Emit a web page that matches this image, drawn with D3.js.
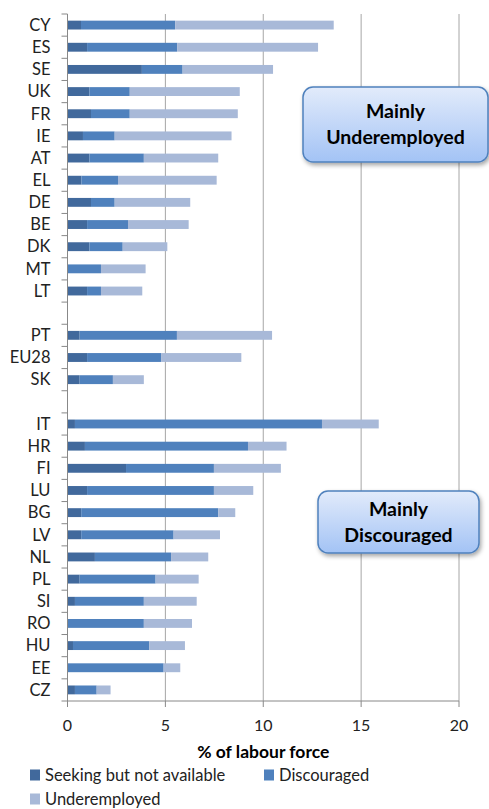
<!DOCTYPE html>
<html>
<head>
<meta charset="utf-8">
<script src="https://cdn.jsdelivr.net/npm/d3@7"></script>
<style>
  body { margin: 0; background: #fff; }
  text { font-family: Lato, "Open Sans", sans-serif; fill: #222; }
</style>
</head>
<body>
<div id="chart"></div>
<script>
var width = 489, height = 809;

// categories, top to bottom ('gap' = empty rows)
var countries = ['CY','ES','SE','UK','FR','IE','AT','EL','DE','BE','DK','MT','LT','gap1',
  'PT','EU28','SK','gap2',
  'IT','HR','FI','LU','BG','LV','NL','PL','SI','RO','HU','EE','CZ'];

var seeking = [0.69,1.0,3.8,1.12,1.2,0.79,1.12,0.71,1.2,1.0,1.12,0,1.0,0,
  0.62,1.0,0.62,0,
  0.38,0.89,2.99,1.0,0.7,0.7,1.4,0.62,0.38,0,0.28,0,0.38];
var discouraged = [4.81,4.6,2.08,2.06,1.98,1.62,2.78,1.87,1.21,2.09,1.7,1.71,0.71,0,
  4.97,3.78,1.7,0,
  12.62,8.33,4.49,6.48,7.0,4.72,3.89,3.88,3.52,3.9,3.9,4.91,1.11];
var underemployed = [8.1,7.2,4.62,5.62,5.52,5.97,3.8,5.04,3.86,3.1,2.28,2.28,2.11,0,
  4.86,4.1,1.58,0,
  2.9,1.97,3.42,2.01,0.87,2.37,1.9,2.2,2.7,2.46,1.82,0.85,0.71];

var seriesNames = ['Seeking but not available', 'Discouraged', 'Underemployed'];
var colors = ['#41699c', '#4f81bd', '#a8b9d8'];
var xTicks = [0, 5, 10, 15, 20];

var margin = {top: 14, left: 67.5};
var plotW = 459 - margin.left, plotH = 701 - margin.top;

var svg = d3.select('#chart').append('svg')
  .attr('width', width)
  .attr('height', height);

var defs = svg.append('defs');
var grad = defs.append('linearGradient')
  .attr('id', 'boxGrad').attr('x1', 0).attr('y1', 0).attr('x2', 0).attr('y2', 1);
grad.append('stop').attr('offset', '0%').attr('stop-color', '#e2ebfb');
grad.append('stop').attr('offset', '100%').attr('stop-color', '#a3c3f5');
var filt = defs.append('filter').attr('id', 'shadow')
  .attr('x', '-10%').attr('y', '-10%').attr('width', '130%').attr('height', '140%');
filt.append('feDropShadow').attr('dx', 1.5).attr('dy', 2.5).attr('stdDeviation', 2)
  .attr('flood-color', '#000').attr('flood-opacity', 0.35);

var g = svg.append('g').attr('transform', 'translate(' + margin.left + ',' + margin.top + ')');

var x = d3.scaleLinear().domain([0, 20]).range([0, plotW]);
var y = d3.scaleBand().domain(countries).range([0, plotH]).paddingInner(0.6).paddingOuter(0.3);

// gridlines
g.selectAll('.grid')
  .data(xTicks.slice(1)).enter()
  .append('line')
  .attr('x1', function (d) { return x(d); })
  .attr('x2', function (d) { return x(d); })
  .attr('y1', 0).attr('y2', plotH)
  .style('stroke', '#a6a6a6')
  .style('stroke-width', 1);

// stacked data
var rows = countries.map(function (c, i) {
  return {country: c, s0: seeking[i], s1: discouraged[i], s2: underemployed[i]};
});
var stack = d3.stack().keys(['s0', 's1', 's2'])(rows);

g.selectAll('.series')
  .data(stack).enter()
  .append('g')
  .attr('fill', function (d, i) { return colors[i]; })
  .selectAll('rect')
  .data(function (d) { return d; }).enter()
  .append('rect')
  .attr('x', function (d) { return x(d[0]); })
  .attr('width', function (d) { return x(d[1]) - x(d[0]); })
  .attr('y', function (d) { return y(d.data.country); })
  .attr('height', y.bandwidth());

// y axis line and ticks at category boundaries
var step = plotH / countries.length;
g.append('line')
  .attr('x1', 0).attr('x2', 0).attr('y1', 0).attr('y2', plotH)
  .style('stroke', '#888');
g.selectAll('.ytick')
  .data(d3.range(countries.length + 1)).enter()
  .append('line')
  .attr('x1', -6).attr('x2', 0)
  .attr('y1', function (d) { return d * step; })
  .attr('y2', function (d) { return d * step; })
  .style('stroke', '#888');

g.selectAll('.ylabel')
  .data(countries.filter(function (c) { return c.indexOf('gap') !== 0; })).enter()
  .append('text')
  .attr('x', -17)
  .attr('y', function (d) { return y(d) + y.bandwidth() / 2; })
  .attr('dy', '0.35em')
  .attr('text-anchor', 'end')
  .style('font-size', '16.5px')
  .text(function (d) { return d; });

// x axis
g.append('line')
  .attr('x1', 0).attr('x2', plotW).attr('y1', plotH).attr('y2', plotH)
  .style('stroke', '#888');
g.selectAll('.xtick')
  .data(xTicks).enter()
  .append('line')
  .attr('x1', function (d) { return x(d); })
  .attr('x2', function (d) { return x(d); })
  .attr('y1', plotH).attr('y2', plotH + 6)
  .style('stroke', '#888');
g.selectAll('.xlabel')
  .data(xTicks).enter()
  .append('text')
  .attr('x', function (d) { return x(d); })
  .attr('y', plotH + 24)
  .attr('dy', '0.35em')
  .attr('text-anchor', 'middle')
  .style('font-size', '16px')
  .text(function (d) { return d; });

svg.append('text')
  .attr('x', margin.left + plotW / 2)
  .attr('y', 752)
  .attr('dy', '0.35em')
  .attr('text-anchor', 'middle')
  .style('font-size', '17.5px')
  .style('font-weight', 'bold')
  .style('fill', '#000')
  .text('% of labour force');

// legend
var legendPos = [[30, 775], [264, 775], [30, 799]];
var legend = svg.selectAll('.legend')
  .data(seriesNames).enter()
  .append('g')
  .attr('transform', function (d, i) { return 'translate(' + legendPos[i][0] + ',' + legendPos[i][1] + ')'; });
legend.append('rect')
  .attr('x', 0).attr('y', -5.5).attr('width', 10).attr('height', 11)
  .attr('fill', function (d, i) { return colors[i]; });
legend.append('text')
  .attr('x', 15).attr('y', 0).attr('dy', '0.35em')
  .style('font-size', '16.5px')
  .text(function (d) { return d; });

// annotation boxes
var boxes = [
  {x: 303, y: 87, w: 185, h: 75, lines: ['Mainly', 'Underemployed']},
  {x: 318, y: 491, w: 161, h: 62, lines: ['Mainly', 'Discouraged']}
];
var bg = svg.selectAll('.box')
  .data(boxes).enter()
  .append('g');
bg.append('rect')
  .attr('x', function (d) { return d.x; })
  .attr('y', function (d) { return d.y; })
  .attr('width', function (d) { return d.w; })
  .attr('height', function (d) { return d.h; })
  .attr('rx', 10)
  .attr('fill', 'url(#boxGrad)')
  .attr('stroke', '#4f81bd')
  .attr('stroke-width', 1.5)
  .attr('filter', 'url(#shadow)');
bg.each(function (d) {
  var sel = d3.select(this);
  d.lines.forEach(function (t, i) {
    sel.append('text')
      .attr('x', d.x + d.w / 2)
      .attr('y', d.y + d.h / 2 + (i - 0.5) * 26)
      .attr('dy', '0.35em')
      .attr('text-anchor', 'middle')
      .style('font-size', '19.5px')
      .style('font-weight', 'bold')
      .style('fill', '#000')
      .text(t);
  });
});
</script>
</body>
</html>
